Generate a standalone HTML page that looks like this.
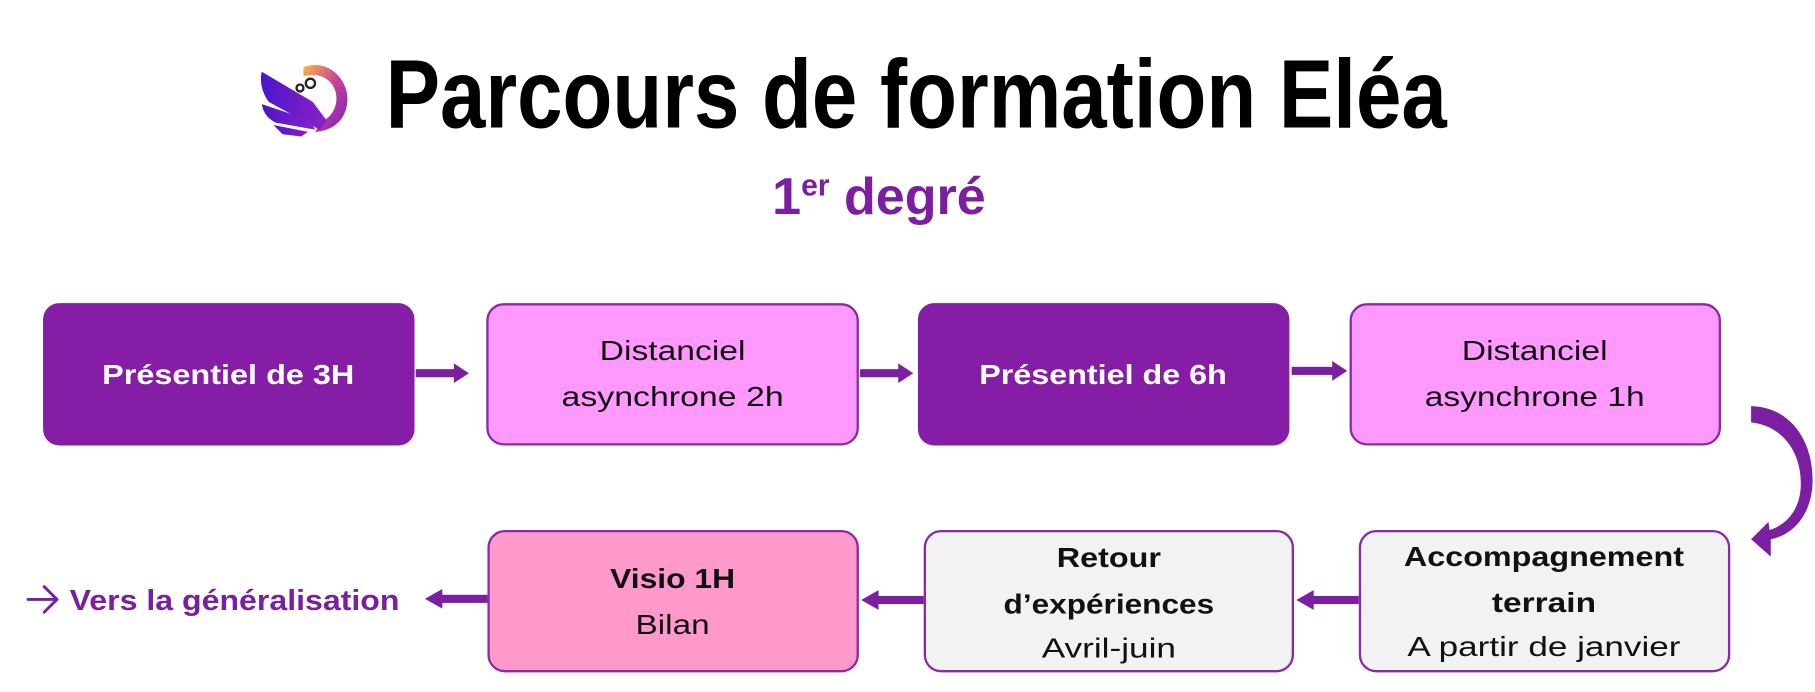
<!DOCTYPE html>
<html><head><meta charset="utf-8"><style>html,body{margin:0;padding:0;background:#fff}svg{display:block}</style></head>
<body>
<svg width="1815" height="692" viewBox="0 0 1568 598" xmlns="http://www.w3.org/2000/svg">
<defs>
<linearGradient id="g1" x1="0" y1="0" x2="1" y2="1"><stop offset="0" stop-color="#ffb347"/><stop offset="0.5" stop-color="#c2409a"/><stop offset="1" stop-color="#7a1fc0"/></linearGradient>
<linearGradient id="g2" x1="0" y1="0" x2="1" y2="0"><stop offset="0" stop-color="#4b16c8"/><stop offset="1" stop-color="#8a20c8"/></linearGradient>
</defs>
<g>
<path d="M262,58 C285,50 300,70 300,85 C300,103 288,113 272,114 L278,105 C288,100 292,90 290,80 C287,68 275,62 262,66Z" fill="url(#g1)"/>
<path d="M226,62 L270,88 L282,104 L276,112 L232,88 C226,80 224,70 226,62Z" fill="url(#g2)"/>
<path d="M226,90 L268,104 L272,112 L238,106 C230,102 227,96 226,90Z" fill="url(#g2)"/>
<path d="M236,108 L266,114 L260,118 L244,116Z" fill="url(#g2)"/>
<circle cx="268" cy="72" r="4" fill="none" stroke="#222" stroke-width="2"/>
<circle cx="259" cy="76" r="3" fill="none" stroke="#222" stroke-width="2"/>
</g>
<text x="333" y="110" font-family="Liberation Sans, sans-serif" font-weight="bold" font-size="84" textLength="917" lengthAdjust="spacingAndGlyphs" fill="#000">Parcours de formation Eléa</text>
<text x="667" y="185" font-family="Liberation Sans, sans-serif" font-weight="bold" font-size="45" fill="#7b1fa2"><tspan>1</tspan><tspan font-size="26" dy="-16">er</tspan><tspan dy="16"> degré</tspan></text>

<g font-family="Liberation Sans, sans-serif" font-size="24" text-anchor="middle">
<rect x="37" y="262" width="321" height="123" rx="14" fill="#861da6"/>
<text x="197" y="332" fill="#fff" font-weight="bold" textLength="218" lengthAdjust="spacingAndGlyphs">Présentiel de 3H</text>
<rect x="421" y="263" width="320" height="121" rx="14" fill="#ff99ff" stroke="#8a2aa8" stroke-width="2"/>
<text x="581" y="311" fill="#111" textLength="126" lengthAdjust="spacingAndGlyphs">Distanciel</text>
<text x="581" y="351" fill="#111" textLength="192" lengthAdjust="spacingAndGlyphs">asynchrone 2h</text>
<rect x="793" y="262" width="321" height="123" rx="14" fill="#861da6"/>
<text x="953" y="332" fill="#fff" font-weight="bold" textLength="214" lengthAdjust="spacingAndGlyphs">Présentiel de 6h</text>
<rect x="1167" y="263" width="319" height="121" rx="14" fill="#ff99ff" stroke="#8a2aa8" stroke-width="2"/>
<text x="1326" y="311" fill="#111" textLength="126" lengthAdjust="spacingAndGlyphs">Distanciel</text>
<text x="1326" y="351" fill="#111" textLength="190" lengthAdjust="spacingAndGlyphs">asynchrone 1h</text>

<rect x="422" y="459" width="319" height="121" rx="14" fill="#ff99cc" stroke="#8a2aa8" stroke-width="2"/>
<text x="581" y="508" fill="#111" font-weight="bold" textLength="108" lengthAdjust="spacingAndGlyphs">Visio 1H</text>
<text x="581" y="548" fill="#111" textLength="64" lengthAdjust="spacingAndGlyphs">Bilan</text>
<rect x="799" y="459" width="318" height="121" rx="14" fill="#f2f2f2" stroke="#8a2aa8" stroke-width="2"/>
<text x="958" y="490" fill="#111" font-weight="bold" textLength="90" lengthAdjust="spacingAndGlyphs">Retour</text>
<text x="958" y="530" fill="#111" font-weight="bold" textLength="182" lengthAdjust="spacingAndGlyphs">d’expériences</text>
<text x="958" y="568" fill="#111" textLength="116" lengthAdjust="spacingAndGlyphs">Avril-juin</text>
<rect x="1175" y="459" width="319" height="121" rx="14" fill="#f2f2f2" stroke="#8a2aa8" stroke-width="2"/>
<text x="1334" y="489" fill="#111" font-weight="bold" textLength="242" lengthAdjust="spacingAndGlyphs">Accompagnement</text>
<text x="1334" y="529" fill="#111" font-weight="bold" textLength="90" lengthAdjust="spacingAndGlyphs">terrain</text>
<text x="1334" y="567" fill="#111" textLength="236" lengthAdjust="spacingAndGlyphs">A partir de janvier</text>
</g>

<g fill="#7b1fa2">
<rect x="359" y="319" width="34" height="7"/><path d="M392,314 L405,322.5 L392,331Z"/>
<rect x="743" y="319" width="34" height="7"/><path d="M776,314 L789,322.5 L776,331Z"/>
<rect x="1116" y="317" width="36" height="7"/><path d="M1151,312 L1164,320.5 L1151,329Z"/>
<rect x="1134" y="515" width="40" height="7"/><path d="M1135,510 L1120,518.5 L1135,527Z"/>
<rect x="758" y="515" width="40" height="7"/><path d="M759,510 L744,518.5 L759,527Z"/>
<rect x="381" y="514" width="40" height="7"/><path d="M382,509 L367,517.5 L382,526Z"/>
<path d="M1513,351 C1550,352 1568,385 1566,420 C1564,445 1550,462 1530,466 L1530,481 L1513,466 L1528,451 L1529,458 C1548,452 1556,435 1556,418 C1556,390 1540,368 1513,365Z"/>
</g>
<g fill="none" stroke="#7b1fa2" stroke-width="2.5" stroke-linecap="round" stroke-linejoin="round">
<path d="M24,518 L48,518 M38,507 L49,518 L38,529"/>
</g>
<text x="60" y="527" font-family="Liberation Sans, sans-serif" font-weight="bold" font-size="25" fill="#7b1fa2" textLength="285" lengthAdjust="spacingAndGlyphs">Vers la généralisation</text>
</svg>
</body></html>
